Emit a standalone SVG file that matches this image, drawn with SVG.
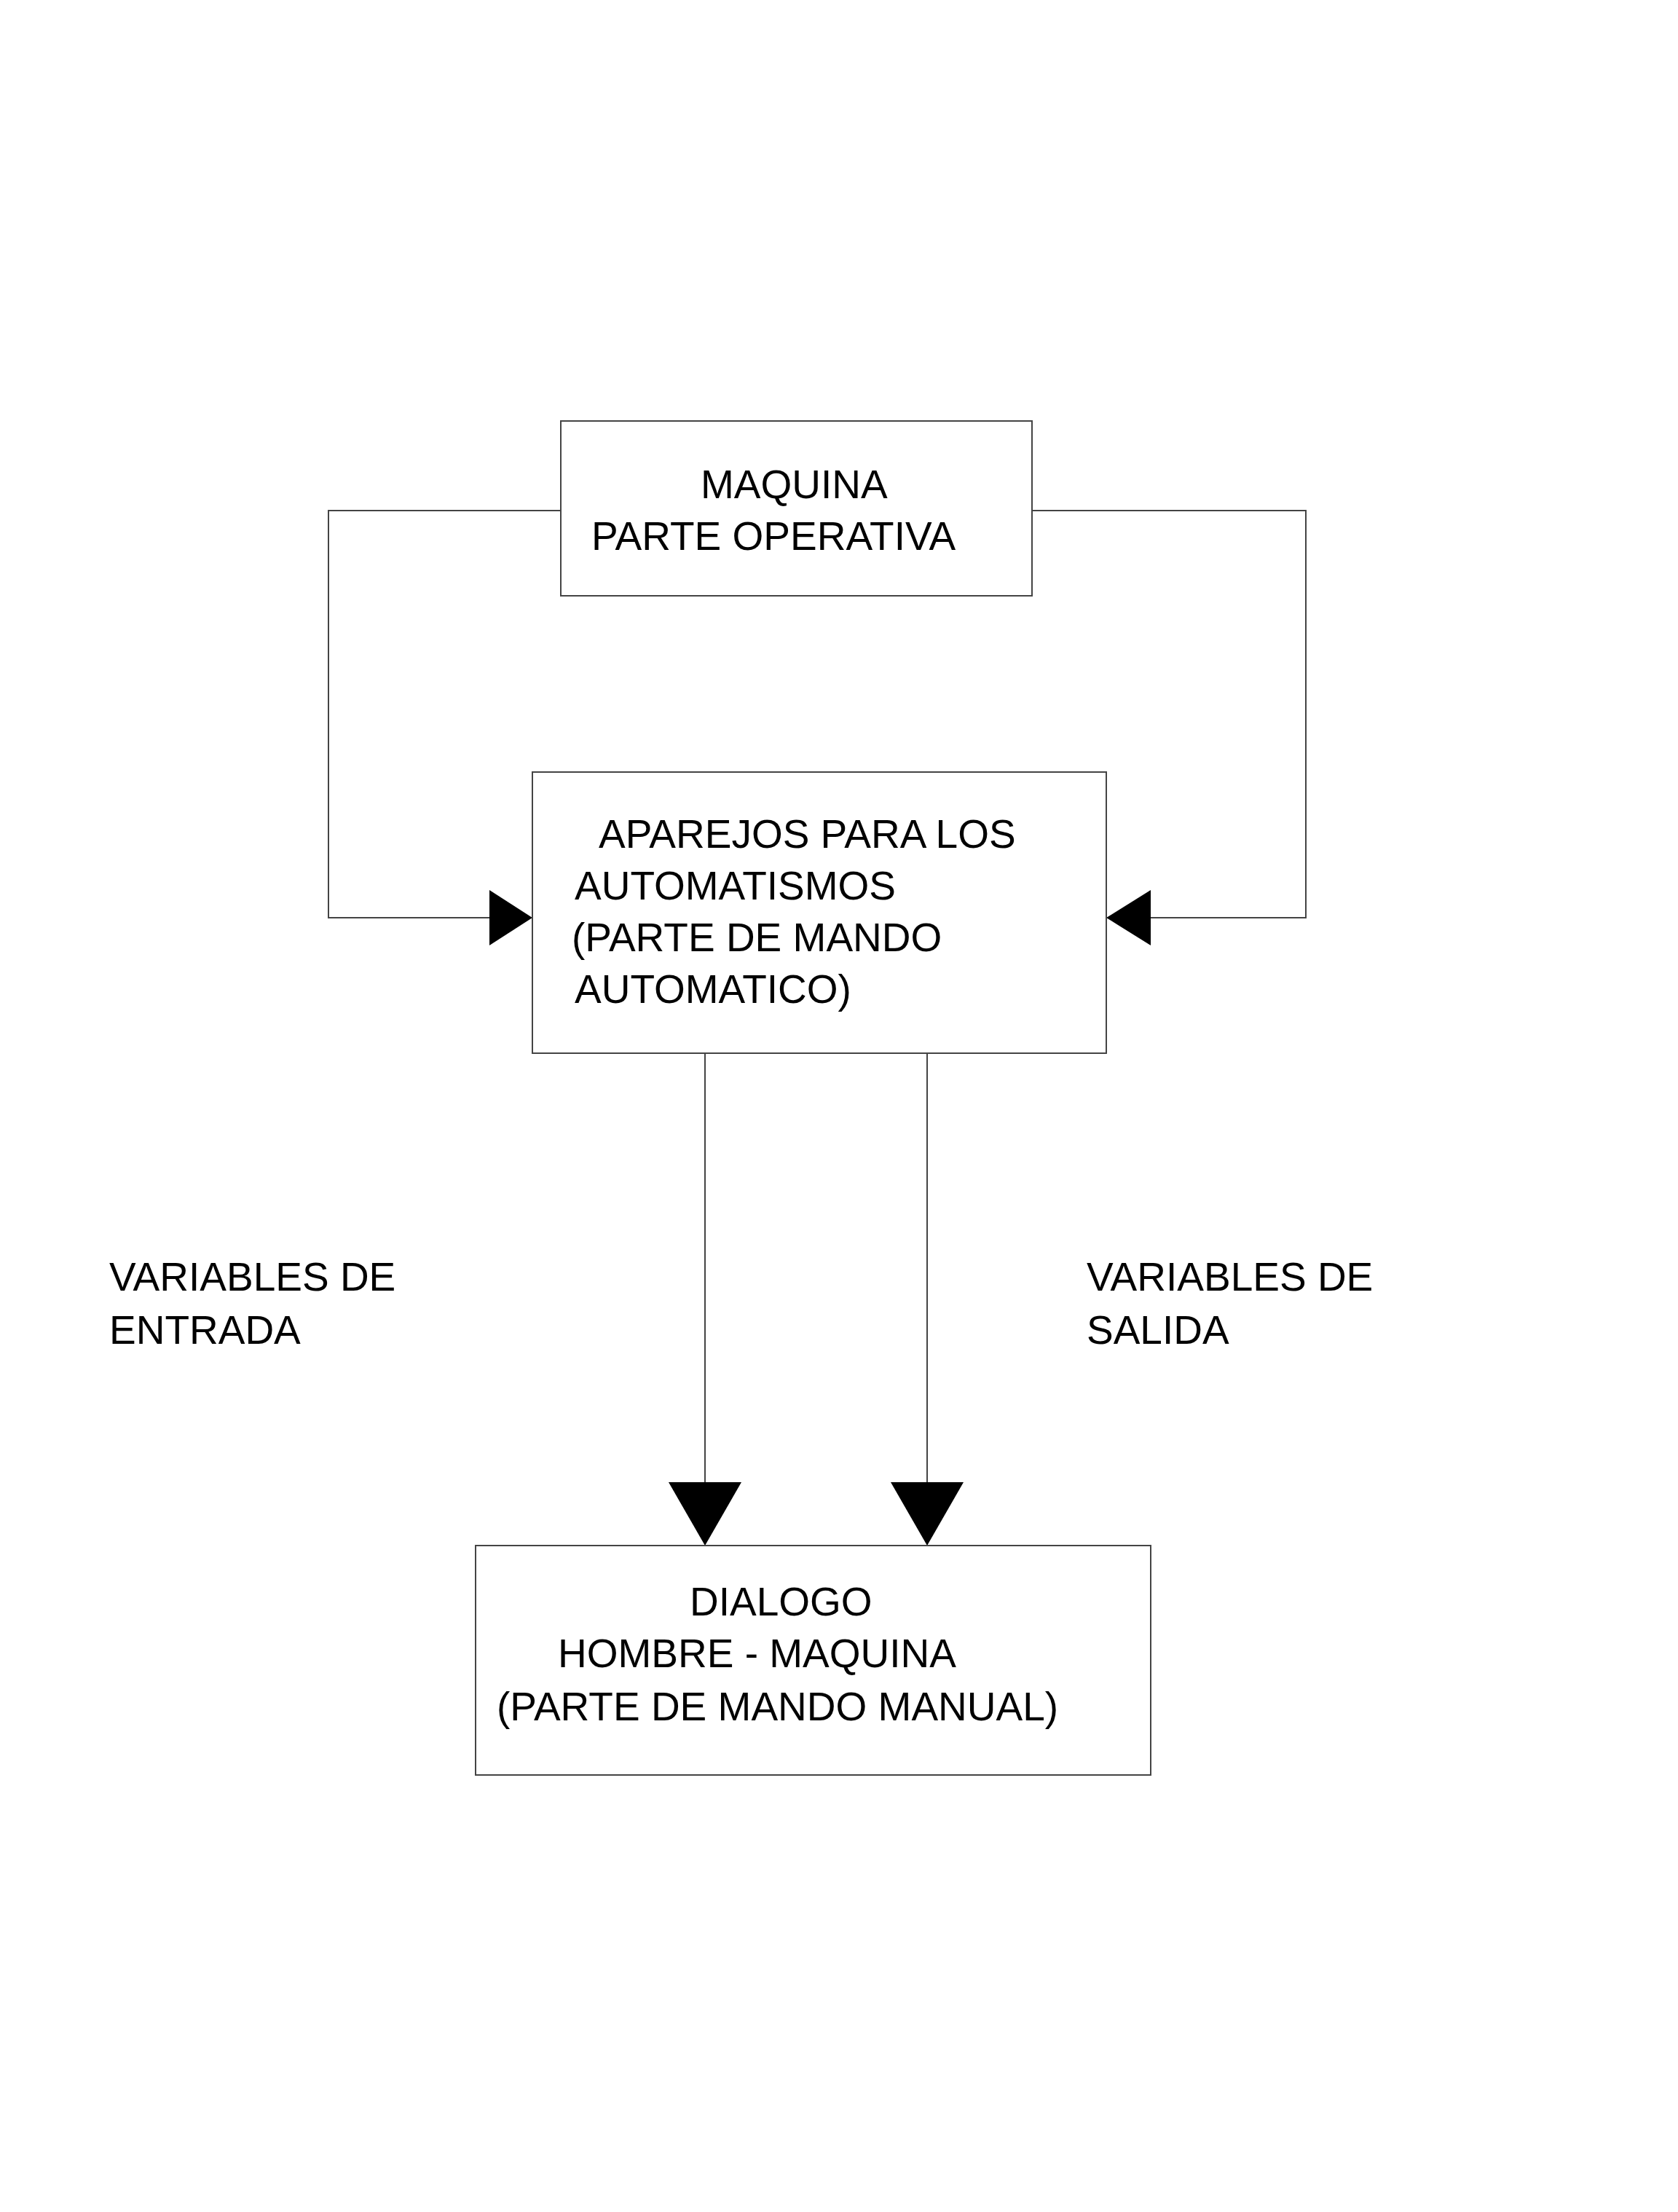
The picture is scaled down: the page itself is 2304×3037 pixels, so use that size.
<svg xmlns="http://www.w3.org/2000/svg" width="2304" height="3037" viewBox="0 0 2304 3037">
<style>
rect{fill:#fff;stroke:#444;stroke-width:2}
.c line,.c polyline{fill:none;stroke:#444;stroke-width:2}
.c polygon{fill:#000}
text{font-family:"Liberation Sans",Arial,sans-serif;font-size:55px;fill:#000}
</style>
<rect x="0" y="0" width="2304" height="3037" style="stroke:none"/>
<g class="c" id="connectors">
<polyline points="770,701 451,701 451,1260 672,1260"/>
<polygon points="672,1222 731,1260 672,1298"/>
<polyline points="1417,701 1793,701 1793,1260 1580,1260"/>
<polygon points="1580,1222 1519,1260 1580,1298"/>
<line x1="968" y1="1446" x2="968" y2="2035"/>
<polygon points="918,2035 1018,2035 968,2122"/>
<line x1="1273" y1="1446" x2="1273" y2="2035"/>
<polygon points="1223,2035 1323,2035 1273,2122"/>
</g>
<g id="maquina">
<rect x="770" y="578" width="647" height="240"/>
<text x="962" y="684">MAQUINA</text>
<text x="812" y="755">PARTE OPERATIVA</text>
</g>
<g id="aparejos">
<rect x="731" y="1060" width="788" height="386"/>
<text x="822" y="1164">APAREJOS PARA LOS</text>
<text x="789" y="1235">AUTOMATISMOS</text>
<text x="785" y="1306">(PARTE DE MANDO</text>
<text x="789" y="1377">AUTOMATICO)</text>
</g>
<g id="dialogo">
<rect x="653" y="2122" width="927" height="315"/>
<text x="947" y="2218">DIALOGO</text>
<text x="766" y="2289">HOMBRE - MAQUINA</text>
<text x="682" y="2362">(PARTE DE MANDO MANUAL)</text>
</g>
<g id="labels">
<text x="150" y="1772">VARIABLES DE</text>
<text x="150" y="1845">ENTRADA</text>
<text x="1492" y="1772">VARIABLES DE</text>
<text x="1492" y="1845">SALIDA</text>
</g>
</svg>
